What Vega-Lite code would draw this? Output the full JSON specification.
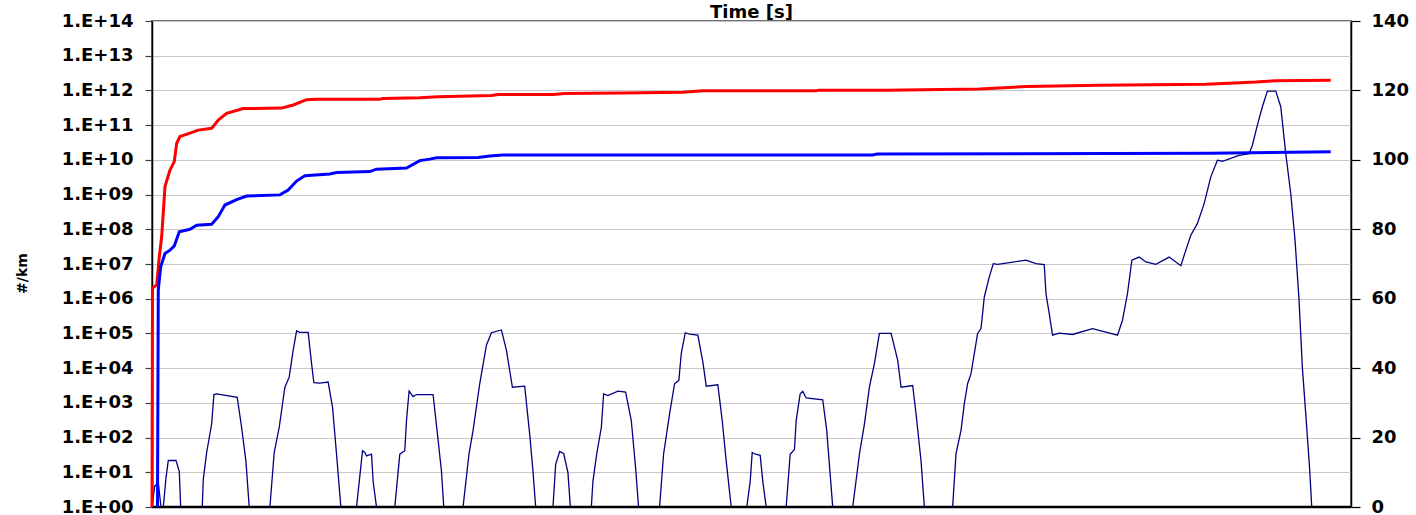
{
 "$schema": "https://vega.github.io/schema/vega-lite/v6.json",
 "width": 1199, "height": 486,
 "autosize": {"type": "none"},
 "padding": {"left": 152, "top": 21, "right": 65, "bottom": 8},
 "background": "white",
 "title": {"text": "Time [s]", "font": "DejaVu Sans", "fontWeight": "bold", "fontSize": 18, "color": "black", "anchor": "middle", "offset": 3, "dy": 13},
 "config": {"view": {"stroke": "#707070", "strokeWidth": 2}, "font": "DejaVu Sans"},
 "datasets": {
  "speed": [
   {"t":0,"speed":0},{"t":2.7,"speed":6},{"t":6.3,"speed":7},{"t":9,"speed":0},{"t":11.3,"speed":0},{"t":14,"speed":8.4},{"t":16.3,"speed":13.4},{"t":24,"speed":13.4},{"t":27.3,"speed":10.3},{"t":28.7,"speed":0},{"t":50.3,"speed":0},{"t":51.3,"speed":7.9},{"t":54.7,"speed":15.7},{"t":59.7,"speed":23.9},{"t":62,"speed":32.4},{"t":64.7,"speed":32.6},{"t":85.3,"speed":31.6},{"t":89.7,"speed":22.9},{"t":94,"speed":13.2},{"t":97.3,"speed":0},{"t":118,"speed":0},{"t":122.3,"speed":15.7},{"t":127.3,"speed":22.9},{"t":133,"speed":34.5},{"t":137.3,"speed":37.4},{"t":141.3,"speed":45.2},{"t":144.7,"speed":50.7},{"t":148,"speed":50.3},{"t":156.3,"speed":50.3},{"t":159.7,"speed":41.3},{"t":162,"speed":35.8},{"t":168,"speed":35.7},{"t":176.3,"speed":36},{"t":180.7,"speed":28.7},{"t":184.7,"speed":15.2},{"t":189,"speed":0},{"t":204.7,"speed":0},{"t":210.7,"speed":16.2},{"t":213,"speed":15.7},{"t":214.7,"speed":14.7},{"t":219.7,"speed":15.2},{"t":221.3,"speed":7.4},{"t":224.7,"speed":0},{"t":243,"speed":0},{"t":248,"speed":15.2},{"t":253,"speed":16.2},{"t":254.7,"speed":24.9},{"t":257.3,"speed":33.4},{"t":261.3,"speed":31.8},{"t":264.7,"speed":32.4},{"t":281.3,"speed":32.4},{"t":285.7,"speed":21},{"t":289.7,"speed":10.3},{"t":292,"speed":0},{"t":311.3,"speed":0},{"t":317.3,"speed":15.4},{"t":321.3,"speed":22},{"t":328,"speed":35.5},{"t":334.7,"speed":46.6},{"t":339.7,"speed":50.2},{"t":349.7,"speed":51},{"t":354.7,"speed":45.2},{"t":360.7,"speed":34.5},{"t":373,"speed":34.8},{"t":378,"speed":21},{"t":381.3,"speed":10.3},{"t":384,"speed":0},{"t":401.3,"speed":0},{"t":404,"speed":12.3},{"t":408,"speed":16},{"t":412,"speed":15.4},{"t":416.3,"speed":9.9},{"t":418.7,"speed":0},{"t":439.7,"speed":0},{"t":441.3,"speed":7.4},{"t":445.3,"speed":15.7},{"t":449.7,"speed":22.9},{"t":452,"speed":32.6},{"t":456.3,"speed":32.1},{"t":466.3,"speed":33.4},{"t":474,"speed":33.1},{"t":479.7,"speed":24.9},{"t":484,"speed":11.3},{"t":487,"speed":0},{"t":508,"speed":0},{"t":512,"speed":15.2},{"t":518,"speed":26.8},{"t":523,"speed":35.5},{"t":527.3,"speed":36.5},{"t":529.7,"speed":44.2},{"t":533.7,"speed":50.2},{"t":538,"speed":49.8},{"t":546.3,"speed":49.5},{"t":551.3,"speed":41.8},{"t":554.7,"speed":34.8},{"t":566.3,"speed":35.2},{"t":570.7,"speed":24.9},{"t":574.7,"speed":13.2},{"t":579.7,"speed":0},{"t":595.3,"speed":0},{"t":598.7,"speed":7.4},{"t":600.7,"speed":15.7},{"t":604,"speed":15.2},{"t":608.7,"speed":14.9},{"t":611.3,"speed":7.4},{"t":614.7,"speed":0},{"t":634.7,"speed":0},{"t":638.7,"speed":15.2},{"t":643,"speed":16.6},{"t":644.7,"speed":24.9},{"t":648.7,"speed":32.6},{"t":651.3,"speed":33.3},{"t":654.7,"speed":31.4},{"t":671.3,"speed":30.9},{"t":675.3,"speed":22},{"t":681.3,"speed":0},{"t":701.3,"speed":0},{"t":708,"speed":15.2},{"t":713,"speed":23.9},{"t":718,"speed":34.5},{"t":723,"speed":41.3},{"t":728,"speed":50},{"t":739.7,"speed":50},{"t":746.3,"speed":42.3},{"t":749.7,"speed":34.5},{"t":761.3,"speed":35},{"t":764.7,"speed":26.8},{"t":769.7,"speed":13.2},{"t":773,"speed":0},{"t":801.3,"speed":0},{"t":804.7,"speed":15.4},{"t":809.7,"speed":22.1},{"t":813,"speed":29.8},{"t":816.3,"speed":35.5},{"t":819.7,"speed":38.4},{"t":826.3,"speed":50},{"t":829.7,"speed":51.4},{"t":833,"speed":60.5},{"t":838,"speed":66.3},{"t":842,"speed":70.1},{"t":846.3,"speed":69.9},{"t":874.7,"speed":71.1},{"t":884.7,"speed":70.1},{"t":893,"speed":69.8},{"t":894.7,"speed":61.5},{"t":898,"speed":55.7},{"t":901.3,"speed":49.5},{"t":908,"speed":50.1},{"t":921.3,"speed":49.7},{"t":941.3,"speed":51.4},{"t":954.7,"speed":50.4},{"t":966.3,"speed":49.5},{"t":971.3,"speed":53.8},{"t":976.3,"speed":61.5},{"t":980.7,"speed":71.1},{"t":988,"speed":72},{"t":994.7,"speed":70.6},{"t":1004.7,"speed":69.9},{"t":1018,"speed":72},{"t":1029.7,"speed":69.5},{"t":1034.7,"speed":74},{"t":1039.7,"speed":78.3},{"t":1046.3,"speed":81.7},{"t":1053,"speed":87.4},{"t":1059.7,"speed":95.1},{"t":1066.3,"speed":99.9},{"t":1071.3,"speed":99.6},{"t":1088,"speed":101.3},{"t":1098,"speed":101.8},{"t":1101.3,"speed":104.2},{"t":1106.3,"speed":110},{"t":1111.3,"speed":115.3},{"t":1116.3,"speed":119.8},{"t":1124.7,"speed":119.8},{"t":1129.7,"speed":115.3},{"t":1134.7,"speed":101.8},{"t":1139.7,"speed":90.3},{"t":1144,"speed":76.8},{"t":1148,"speed":59.6},{"t":1151.3,"speed":40.3},{"t":1154.7,"speed":26.9},{"t":1158.7,"speed":10.6},{"t":1160.7,"speed":0},{"t":1179.7,"speed":0}
  ],
  "cum": [
   {"s":"Series 1","t":0,"v":1},{"s":"Series 1","t":0.5,"v":2.04e6},{"s":"Series 1","t":4.7,"v":2.5e6},{"s":"Series 1","t":7.3,"v":1.6e7},{"s":"Series 1","t":9.7,"v":6.2e7},{"s":"Series 1","t":13,"v":1.7e9},{"s":"Series 1","t":18,"v":5.1e9},{"s":"Series 1","t":22.3,"v":8.9e9},{"s":"Series 1","t":24.7,"v":3.0e10},{"s":"Series 1","t":28,"v":4.7e10},{"s":"Series 1","t":38,"v":5.9e10},{"s":"Series 1","t":46.3,"v":7.2e10},{"s":"Series 1","t":59.7,"v":8.1e10},{"s":"Series 1","t":66.3,"v":1.4e11},{"s":"Series 1","t":74.7,"v":2.2e11},{"s":"Series 1","t":91.3,"v":3.0e11},{"s":"Series 1","t":129.7,"v":3.1e11},{"s":"Series 1","t":141.3,"v":3.8e11},{"s":"Series 1","t":154.7,"v":5.4e11},{"s":"Series 1","t":164.7,"v":5.6e11},{"s":"Series 1","t":228,"v":5.6e11},{"s":"Series 1","t":231.3,"v":5.9e11},{"s":"Series 1","t":268,"v":6.2e11},{"s":"Series 1","t":286.3,"v":6.6e11},{"s":"Series 1","t":339.7,"v":7.1e11},{"s":"Series 1","t":346.3,"v":7.6e11},{"s":"Series 1","t":401.3,"v":7.6e11},{"s":"Series 1","t":413,"v":8.1e11},{"s":"Series 1","t":469.7,"v":8.5e11},{"s":"Series 1","t":531.3,"v":8.9e11},{"s":"Series 1","t":551.3,"v":9.8e11},{"s":"Series 1","t":664.7,"v":9.8e11},{"s":"Series 1","t":668,"v":1.02e12},{"s":"Series 1","t":734.7,"v":1.02e12},{"s":"Series 1","t":828,"v":1.1e12},{"s":"Series 1","t":874.7,"v":1.29e12},{"s":"Series 1","t":948,"v":1.41e12},{"s":"Series 1","t":1001,"v":1.45e12},{"s":"Series 1","t":1054.7,"v":1.51e12},{"s":"Series 1","t":1078,"v":1.62e12},{"s":"Series 1","t":1104.7,"v":1.74e12},{"s":"Series 1","t":1124.7,"v":1.91e12},{"s":"Series 1","t":1179.7,"v":1.95e12},
   {"s":"Series 2","t":5.5,"v":1},{"s":"Series 2","t":6.3,"v":1.8e6},{"s":"Series 2","t":8.7,"v":8.3e6},{"s":"Series 2","t":13,"v":2.0e7},{"s":"Series 2","t":18,"v":2.5e7},{"s":"Series 2","t":22.3,"v":3.3e7},{"s":"Series 2","t":27.3,"v":8.5e7},{"s":"Series 2","t":38,"v":1.0e8},{"s":"Series 2","t":44.7,"v":1.3e8},{"s":"Series 2","t":59.7,"v":1.4e8},{"s":"Series 2","t":66.3,"v":2.3e8},{"s":"Series 2","t":73,"v":5.0e8},{"s":"Series 2","t":84.7,"v":7.2e8},{"s":"Series 2","t":94.7,"v":9.1e8},{"s":"Series 2","t":128,"v":9.8e8},{"s":"Series 2","t":136.3,"v":1.35e9},{"s":"Series 2","t":144.7,"v":2.45e9},{"s":"Series 2","t":153,"v":3.5e9},{"s":"Series 2","t":178,"v":3.9e9},{"s":"Series 2","t":184.7,"v":4.3e9},{"s":"Series 2","t":218,"v":4.6e9},{"s":"Series 2","t":224.7,"v":5.4e9},{"s":"Series 2","t":254.7,"v":5.8e9},{"s":"Series 2","t":268,"v":9.5e9},{"s":"Series 2","t":278,"v":1.05e10},{"s":"Series 2","t":284.7,"v":1.15e10},{"s":"Series 2","t":326.3,"v":1.17e10},{"s":"Series 2","t":338,"v":1.29e10},{"s":"Series 2","t":351.3,"v":1.38e10},{"s":"Series 2","t":721,"v":1.38e10},{"s":"Series 2","t":726,"v":1.48e10},{"s":"Series 2","t":1058,"v":1.55e10},{"s":"Series 2","t":1179.7,"v":1.7e10}
  ]
 },
 "layer": [
  {
   "data": {"name": "speed"},
   "layer": [
    {
     "mark": {"type": "line", "color": "#000080", "strokeWidth": 1.3},
     "encoding": {
      "x": {"field": "t", "type": "quantitative", "scale": {"domain": [0, 1200], "nice": false, "zero": false}, "axis": null},
      "y": {"field": "speed", "type": "quantitative", "scale": {"domain": [0, 140], "nice": false},
        "axis": {"orient": "right", "title": null, "values": [0,20,40,60,80,100,120,140], "grid": false,
          "domainColor": "black", "domainWidth": 1.5, "tickColor": "black", "tickSize": 9, "tickWidth": 1.2,
          "labelFont": "DejaVu Sans", "labelFontWeight": "bold", "labelFontSize": 18, "labelColor": "black",
          "labelPadding": 11, "labelAlign": "left", "labelBaseline": "middle"}}
     }
    },
    {
     "data": {"values": [{}]},
     "mark": {"type": "rule", "color": "black", "strokeWidth": 2.5},
     "encoding": {"y": {"datum": 0}}
    }
   ]
  },
  {
   "data": {"name": "cum"},
   "mark": {"type": "line", "strokeWidth": 3},
   "encoding": {
    "x": {"field": "t", "type": "quantitative", "scale": {"domain": [0, 1200], "nice": false, "zero": false}, "axis": null},
    "y": {"field": "v", "type": "quantitative", "scale": {"type": "log", "domain": [1, 1e14], "nice": false},
      "axis": {"orient": "left", "title": "#/km", "values": [1,10,100,1000,1e4,1e5,1e6,1e7,1e8,1e9,1e10,1e11,1e12,1e13,1e14],
        "labelExpr": "'1.E+' + (round(log(datum.value)/LN10) < 10 ? '0' : '') + round(log(datum.value)/LN10)",
        "grid": true, "gridColor": "#c8c8c8", "gridWidth": 1.2,
        "domainColor": "black", "domainWidth": 1.5, "tickColor": "#404040", "tickSize": 7, "tickWidth": 1.2,
        "labelFont": "DejaVu Sans", "labelFontWeight": "bold", "labelFontSize": 18, "labelColor": "black",
        "labelPadding": 12, "labelBaseline": "middle",
        "titleFont": "DejaVu Sans", "titleFontWeight": "bold", "titleFontSize": 14, "titleColor": "black",
        "titleAngle": -90, "titleX": -130, "titleY": 252, "titleAlign": "center", "titleBaseline": "middle"}},
    "color": {"field": "s", "type": "nominal", "scale": {"domain": ["Series 1", "Series 2"], "range": ["#ff0000", "#0000ff"]}, "legend": null}
   }
  }
 ],
 "resolve": {"scale": {"y": "independent"}}
}
